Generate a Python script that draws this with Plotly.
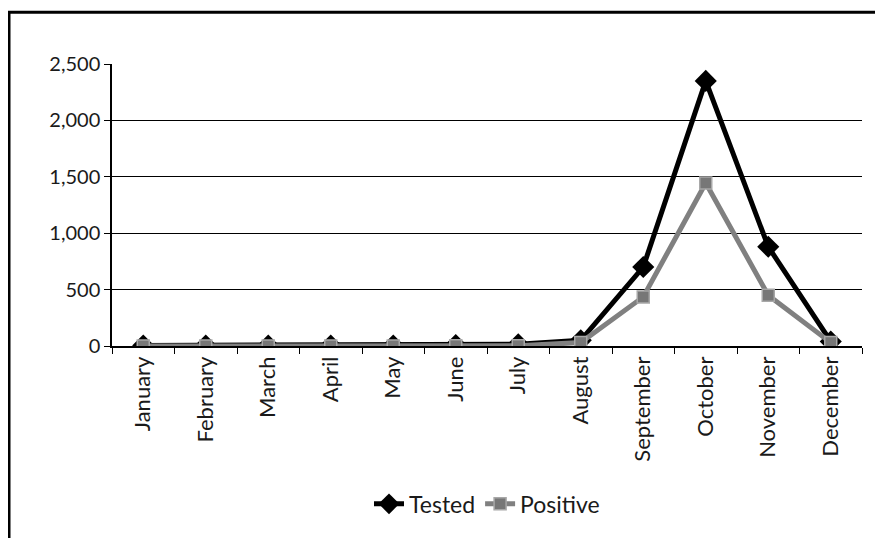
import plotly.graph_objects as go

months = ["January", "February", "March", "April", "May", "June", "July",
          "August", "September", "October", "November", "December"]
tested = [5, 5, 5, 5, 5, 8, 15, 50, 700, 2350, 880, 40]
positive = [0, 0, 0, 0, 0, 2, 2, 30, 435, 1445, 450, 30]

fig = go.Figure()
fig.add_trace(go.Scatter(
    x=months, y=tested, name="Tested", mode="lines+markers",
    line=dict(color="black", width=5),
    marker=dict(symbol="diamond", size=17, color="black"),
))
fig.add_trace(go.Scatter(
    x=months, y=positive, name="Positive", mode="lines+markers",
    line=dict(color="#808080", width=5),
    marker=dict(symbol="square", size=12, color="#777777",
                line=dict(color="#a8a8a8", width=1.5)),
))

# page has an 8px body margin; figure coordinates are page - 8
W, H = 875, 530
L, R, T, B = 104, 21, 56, 190
pw, ph = W - L - R, H - T - B

fig.update_layout(
    width=W, height=H,
    margin=dict(l=L, r=R, t=T, b=B),
    paper_bgcolor="white", plot_bgcolor="white",
    font=dict(family="Lato, Open Sans, sans-serif", size=20, color="#1a1a1a"),
    showlegend=True,
    legend=dict(orientation="h", x=0.5, xanchor="center",
                y=(T + ph - 499) / ph, yanchor="middle",
                font=dict(size=23), traceorder="normal"),
    xaxis=dict(
        type="category", showgrid=False, showline=True, linecolor="black",
        linewidth=1.5, ticks="outside", tickson="boundaries", ticklen=6,
        tickcolor="black", tickangle=-90, tickfont=dict(size=22),
        range=[-0.5, 11.5],
    ),
    yaxis=dict(
        range=[0, 2500], dtick=500, tickformat=",", showgrid=True,
        gridcolor="black", gridwidth=1.2, showline=True, linecolor="black",
        linewidth=1.5, ticks="outside", ticklen=6, tickcolor="black",
        tickfont=dict(size=20), zeroline=False,
    ),
    shapes=[dict(
        type="rect", xref="paper", yref="paper",
        x0=(1 - L) / pw, x1=1.2,
        y0=-0.8, y1=(T + ph - 4) / ph,
        line=dict(color="black", width=3), layer="below",
    )],
)

fig.write_html("out.html")
